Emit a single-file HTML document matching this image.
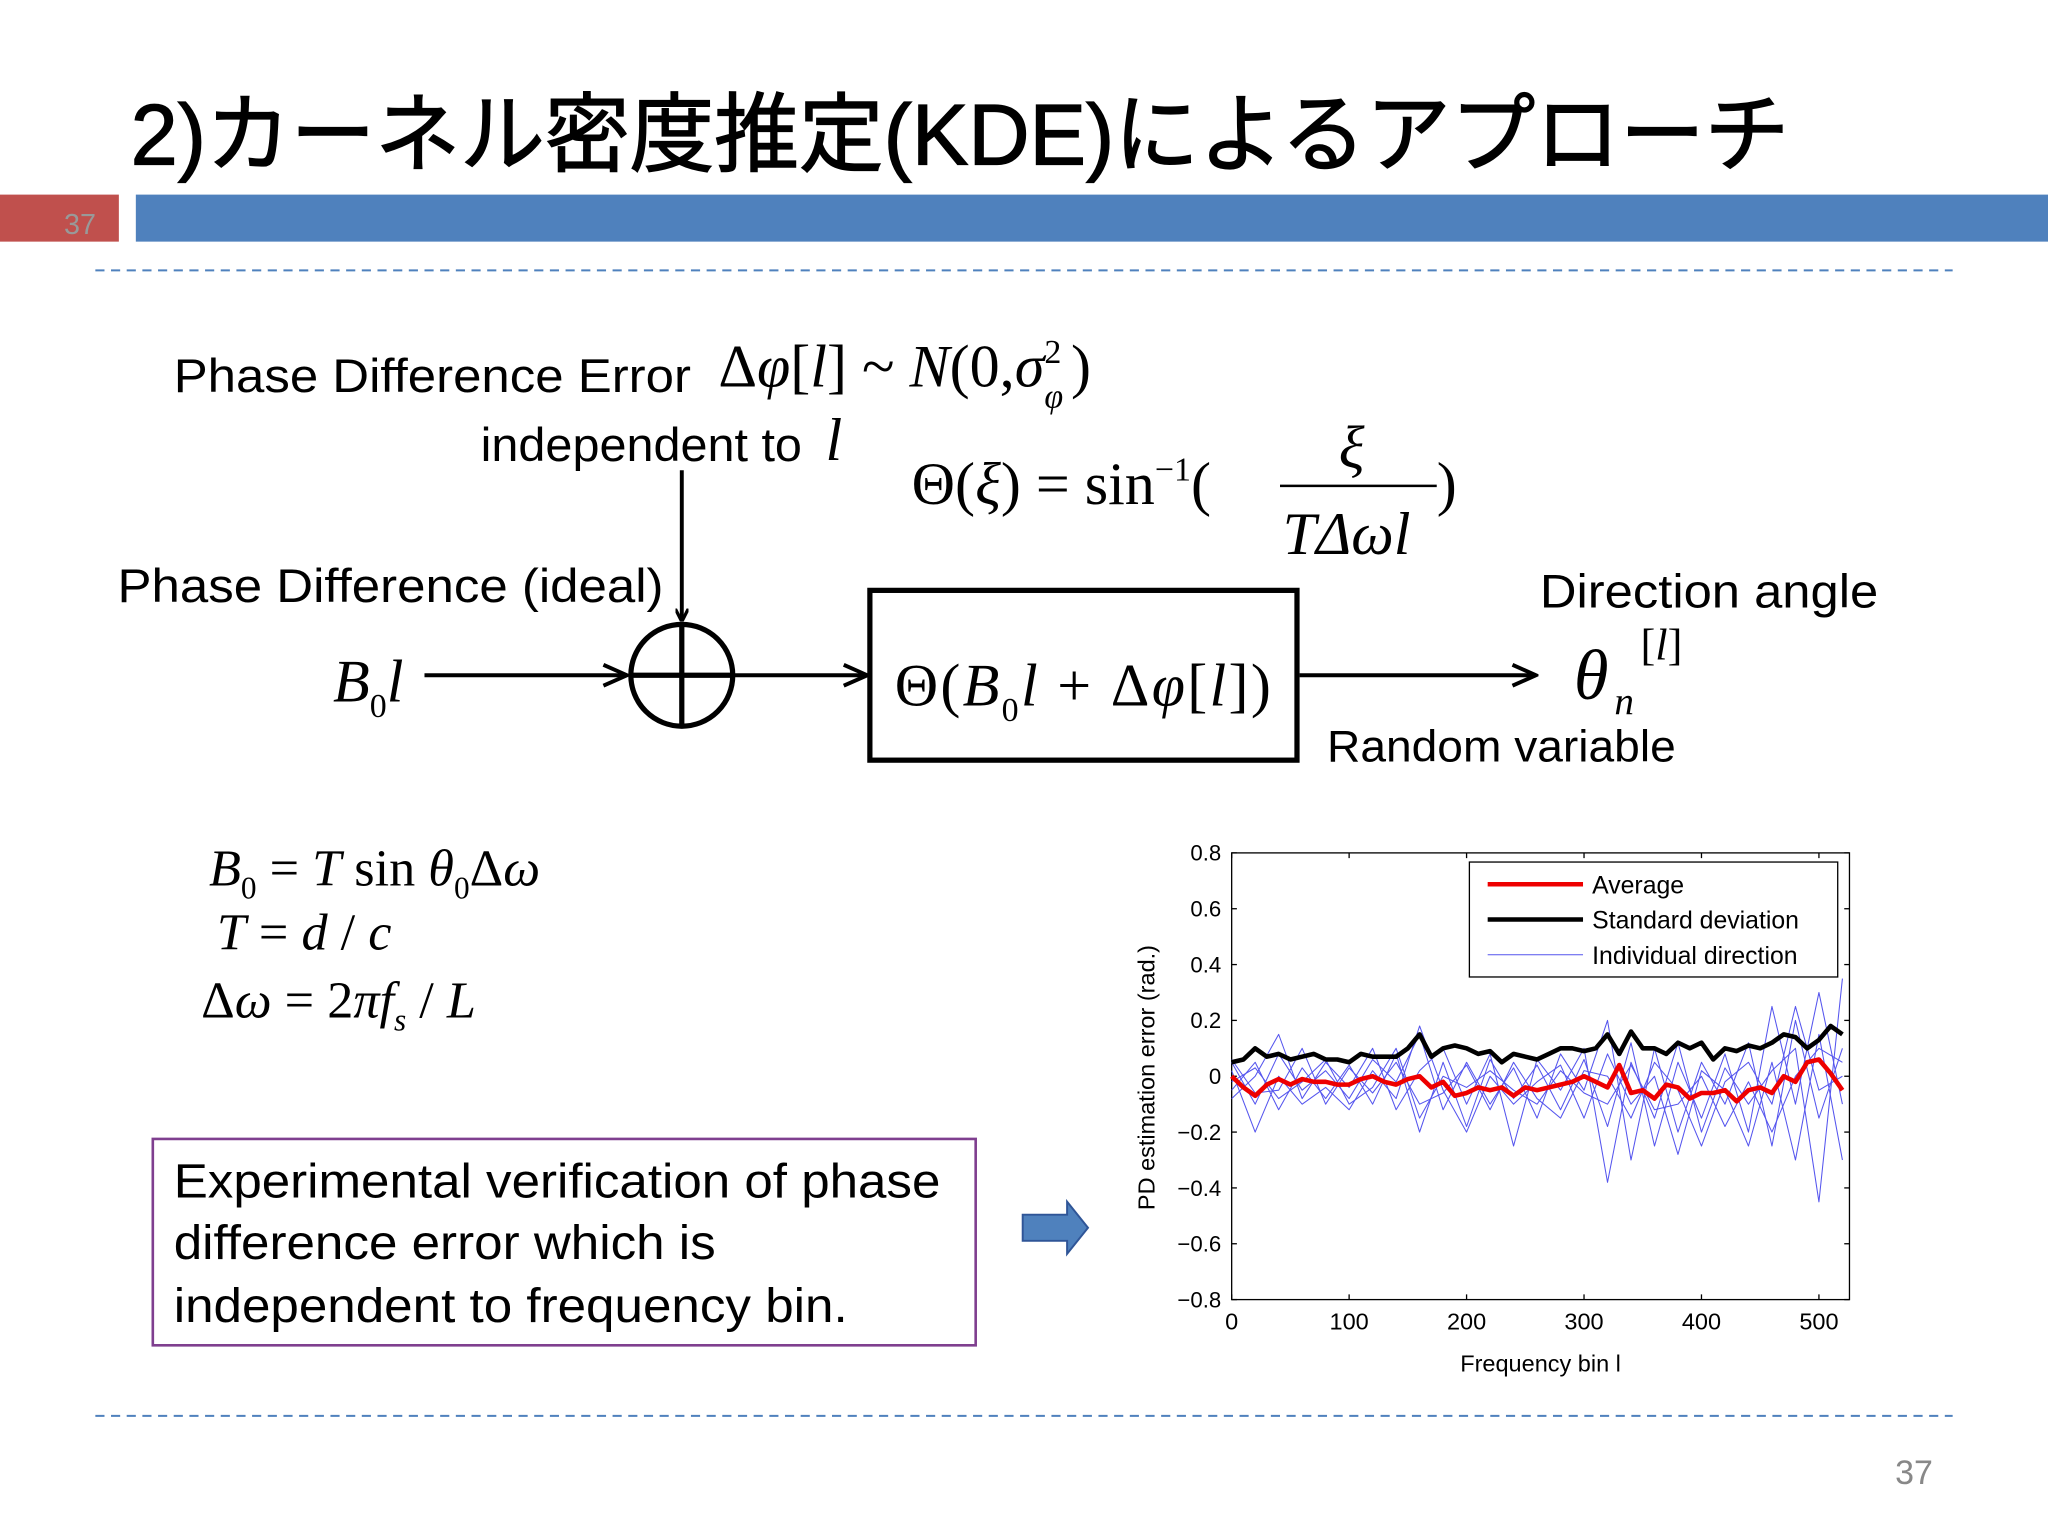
<!DOCTYPE html>
<html><head><meta charset="utf-8"><style>
html,body{margin:0;padding:0;background:#fff;width:2048px;height:1536px;overflow:hidden}
svg{display:block}
.s{font-family:"Liberation Sans","Noto Sans CJK JP",sans-serif}
.m{font-family:"Liberation Serif",serif}
</style></head><body>
<svg width="2048" height="1536" viewBox="0 0 1568 1176" xmlns="http://www.w3.org/2000/svg">
<defs><marker id="ah" markerWidth="10" markerHeight="10" refX="9" refY="5" orient="auto" markerUnits="userSpaceOnUse"><path d="M0,0 L10,5 L0,10" fill="none" stroke="#000" stroke-width="2.5"/></marker>
<marker id="ah2" markerWidth="22" markerHeight="20" refX="20" refY="10" orient="auto" markerUnits="userSpaceOnUse"><path d="M2,2 L20,10 L2,18" fill="none" stroke="#000" stroke-width="3"/></marker></defs>
<text class="s" x="100" y="126" font-size="66" textLength="1270" lengthAdjust="spacingAndGlyphs" stroke="#000" stroke-width="1">2)カーネル密度推定(KDE)によるアプローチ</text>
<rect x="0" y="149" width="91" height="36" fill="#c0504d"/>
<text class="s" x="49" y="179" font-size="22" fill="#999">37</text>
<rect x="104" y="149" width="1464" height="36" fill="#4f81bd"/>
<line x1="73" y1="207" x2="1495" y2="207" stroke="#4f81bd" stroke-width="1.5" stroke-dasharray="7,5"/>
<line x1="73" y1="1084" x2="1495" y2="1084" stroke="#4f81bd" stroke-width="1.5" stroke-dasharray="7,5"/>
<text class="s" x="1451" y="1136" font-size="26" fill="#888">37</text>

<g>
<text class="s" x="133" y="300" font-size="36" textLength="396" lengthAdjust="spacingAndGlyphs">Phase Difference Error</text>
<text class="m" x="550" y="296" font-size="46">Δ<tspan font-style="italic">φ</tspan>[<tspan font-style="italic">l</tspan>] ~ <tspan font-style="italic">N</tspan>(0,<tspan font-style="italic">σ</tspan><tspan font-size="26" dy="-18">2</tspan><tspan font-size="26" font-style="italic" dx="-13" dy="34">φ</tspan><tspan dx="6" dy="-16">)</tspan></text>
<text class="s" x="368" y="353" font-size="36" textLength="246" lengthAdjust="spacingAndGlyphs">independent to</text>
<text class="m" x="632" y="352" font-size="46" font-style="italic">l</text>
<text class="m" x="698" y="386" font-size="46">Θ(<tspan font-style="italic">ξ</tspan>) = sin<tspan font-size="26" dy="-18">−1</tspan><tspan dy="18">(</tspan></text>
<text class="m" x="1025" y="358" font-size="46" font-style="italic">ξ</text>
<line x1="980" y1="372" x2="1100" y2="372" stroke="#000" stroke-width="2"/>
<text class="m" x="982" y="424" font-size="46" font-style="italic">TΔωl</text>
<text class="m" x="1100" y="386" font-size="46">)</text>
<text class="s" x="90" y="461" font-size="36" textLength="418" lengthAdjust="spacingAndGlyphs">Phase Difference (ideal)</text>
<line x1="522" y1="360" x2="522" y2="475" stroke="#000" stroke-width="3" marker-end="url(#ah)"/>
<text class="m" x="255" y="537" font-size="46" font-style="italic">B<tspan font-size="26" font-style="normal" dy="12">0</tspan><tspan dy="-12">l</tspan></text>
<line x1="325" y1="517" x2="480" y2="517" stroke="#000" stroke-width="3" marker-end="url(#ah2)"/>
<circle cx="522" cy="517" r="39" fill="none" stroke="#000" stroke-width="4"/>
<line x1="483" y1="517" x2="561" y2="517" stroke="#000" stroke-width="4"/>
<line x1="522" y1="478" x2="522" y2="556" stroke="#000" stroke-width="4"/>
<line x1="561" y1="517" x2="664" y2="517" stroke="#000" stroke-width="3" marker-end="url(#ah2)"/>
<rect x="666" y="452" width="327" height="130" fill="none" stroke="#000" stroke-width="4"/>
<text class="m" x="685" y="540" font-size="46" textLength="288" lengthAdjust="spacing">Θ(<tspan font-style="italic">B</tspan><tspan font-size="26" dy="12">0</tspan><tspan font-style="italic" dy="-12">l</tspan> + Δ<tspan font-style="italic">φ</tspan>[<tspan font-style="italic">l</tspan>])</text>
<line x1="995" y1="517" x2="1176" y2="517" stroke="#000" stroke-width="3" marker-end="url(#ah2)"/>
<text class="s" x="1179" y="465" font-size="36" textLength="259" lengthAdjust="spacingAndGlyphs">Direction angle</text>
<text class="m" x="1205" y="535" font-size="54" font-style="italic">θ</text>
<text class="m" x="1256" y="505" font-size="34">[<tspan font-style="italic">l</tspan>]</text>
<text class="m" x="1236" y="547" font-size="30" font-style="italic">n</text>
<text class="s" x="1016" y="583" font-size="34" textLength="267" lengthAdjust="spacingAndGlyphs">Random variable</text>
</g>
<g class="m" font-size="40">
<text x="160" y="678" font-style="italic">B<tspan font-size="24" font-style="normal" dy="10">0</tspan><tspan font-style="normal" dy="-10"> = </tspan>T<tspan font-style="normal"> sin </tspan>θ<tspan font-size="24" font-style="normal" dy="10">0</tspan><tspan font-style="normal" dy="-10">Δ</tspan>ω</text>
<text x="166" y="727" font-style="italic">T<tspan font-style="normal"> = </tspan>d<tspan font-style="normal"> / </tspan>c</text>
<text x="154" y="779"><tspan>Δ</tspan><tspan font-style="italic">ω</tspan> = 2<tspan font-style="italic">πf</tspan><tspan font-size="24" font-style="italic" dy="10">s</tspan><tspan dy="-10"> / </tspan><tspan font-style="italic">L</tspan></text>
</g>
<rect x="117" y="872" width="630" height="158" fill="none" stroke="#7f3f8f" stroke-width="2"/>
<g class="s" font-size="37">
<text x="133" y="917" textLength="587" lengthAdjust="spacingAndGlyphs">Experimental verification of phase</text>
<text x="133" y="964" textLength="415" lengthAdjust="spacingAndGlyphs">difference error which is</text>
<text x="133" y="1012" textLength="516" lengthAdjust="spacingAndGlyphs">independent to frequency bin.</text>
</g>
<path d="M783,930 L817,930 L817,920 L833,940 L817,960 L817,950 L783,950 Z" fill="#4f81bd" stroke="#2f5597" stroke-width="1.5"/>

<g id="chart"></g>
</svg>
<script>
const xMean=[0,10,20,30,40,50,60,70,80,90,100,110,120,130,140,150,160,170,180,190,200,210,220,230,240,250,260,270,280,290,300,310,320,330,340,350,360,370,380,390,400,410,420,430,440,450,460,470,480,490,500,510,520];
const meanVals=[0,-0.04,-0.07,-0.03,-0.01,-0.03,-0.01,-0.02,-0.02,-0.03,-0.03,-0.01,0.0,-0.02,-0.03,-0.01,0,-0.04,-0.02,-0.07,-0.06,-0.04,-0.05,-0.04,-0.07,-0.04,-0.05,-0.04,-0.03,-0.02,0,-0.02,-0.04,0.04,-0.06,-0.05,-0.08,-0.03,-0.04,-0.08,-0.06,-0.06,-0.05,-0.09,-0.05,-0.04,-0.06,0.0,-0.02,0.05,0.06,0.01,-0.05];
const stdVals=[0.05,0.06,0.1,0.07,0.08,0.06,0.07,0.08,0.06,0.06,0.05,0.08,0.07,0.07,0.07,0.1,0.15,0.07,0.1,0.11,0.1,0.08,0.09,0.05,0.08,0.07,0.06,0.08,0.1,0.1,0.09,0.1,0.15,0.08,0.16,0.1,0.1,0.08,0.12,0.1,0.12,0.06,0.1,0.09,0.11,0.1,0.12,0.15,0.14,0.1,0.13,0.18,0.15];
const xInd=[0,20,40,60,80,100,120,140,160,180,200,220,240,260,280,300,320,340,360,380,400,420,440,460,480,500,520];
const ind1=[0.05,-0.1,0.08,-0.05,0.02,-0.08,0.06,-0.02,0.15,-0.12,0.05,-0.1,0.03,-0.15,0.08,-0.05,0.2,-0.3,0.1,-0.2,0.05,-0.1,0.12,-0.25,0.2,-0.15,0.1];
const ind2=[-0.05,0.05,-0.12,0.03,-0.08,0.04,-0.1,0.08,-0.2,0.05,-0.18,0.06,-0.08,0.04,-0.12,0.06,-0.18,0.12,-0.25,0.05,-0.15,0.08,-0.2,0.25,-0.1,0.3,-0.1];
const ind3=[0.02,-0.2,0.0,-0.1,-0.04,-0.12,0.02,-0.08,0.18,-0.05,-0.2,0.0,-0.1,-0.02,0.04,-0.15,0.08,-0.1,0.0,-0.28,0.02,-0.05,-0.25,0.05,-0.3,0.15,-0.3];
const ind4=[-0.08,0.0,0.15,-0.08,0.05,-0.04,0.1,-0.12,0.02,0.1,-0.1,0.08,-0.25,0.06,-0.05,0.1,-0.38,0.05,-0.15,0.12,-0.2,0.03,-0.1,0.02,0.1,-0.45,0.35];
const ind5=[0.06,-0.06,-0.05,0.1,-0.1,0.03,-0.06,0.05,-0.1,-0.06,0.04,-0.12,0.05,-0.08,-0.15,0.02,0.0,-0.15,0.05,-0.05,-0.25,-0.02,0.05,-0.1,0.25,-0.05,0.0];
const ind6=[-0.02,0.03,-0.08,-0.02,0.06,-0.1,-0.04,0.1,-0.15,0.0,-0.04,0.02,-0.05,-0.1,0.02,-0.06,-0.1,0.04,-0.12,-0.1,0.0,-0.18,-0.02,-0.2,0.0,0.1,0.05];
const yTicks=[0.8,0.6,0.4,0.2,0,-0.2,-0.4,-0.6,-0.8];
const yTickLabels=["0.8","0.6","0.4","0.2","0","−0.2","−0.4","−0.6","−0.8"];
const xTicks=[0,100,200,300,400,500];
const X0=943,X1=1416,XMAX=526,Y0=653,Y1=995;
const sx=v=>X0+(v/XMAX)*(X1-X0);
const sy=v=>Y0+(0.8-v)/1.6*(Y1-Y0);
const NS="http://www.w3.org/2000/svg";
const g=document.getElementById('chart');
function mk(t,a){const e=document.createElementNS(NS,t);for(const k in a)e.setAttribute(k,a[k]);g.appendChild(e);return e;}
let e=mk('rect',{x:X0,y:Y0,width:X1-X0,height:Y1-Y0,fill:'#fff',stroke:'#000','stroke-width':1});


const fnt='"Liberation Sans",sans-serif';
yTicks.forEach((v,i)=>{
 let t=mk('line',{x1:X0,y1:sy(v),x2:X0+4,y2:sy(v),stroke:'#000'});
 
 
 mk('line',{x1:X1-4,y1:sy(v),x2:X1,y2:sy(v),stroke:'#000'});
 let l=mk('text',{x:X0-8,y:sy(v)+6,'text-anchor':'end','font-size':17,'font-family':fnt});
 l.textContent=yTickLabels[i];
 
 
});
xTicks.forEach(v=>{
 let t=mk('line',{x1:sx(v),y1:Y1,x2:sx(v),y2:Y1-4,stroke:'#000'});
 
 
 mk('line',{x1:sx(v),y1:Y0,x2:sx(v),y2:Y0+4,stroke:'#000'});
 let l=mk('text',{x:sx(v),y:Y1+23,'text-anchor':'middle','font-size':18,'font-family':fnt});
 l.textContent=String(v);
 
 
});
function line(xs,ys,col,w,name){
 const p=mk('polyline',{points:xs.map((x,i)=>sx(x)+','+sy(ys[i])).join(' '),fill:'none',stroke:col,'stroke-width':w,'stroke-linejoin':'round'});
 
 
}
[ind1,ind2,ind3,ind4,ind5,ind6].forEach((s,i)=>line(xInd,s,'#5555ee',0.8,'individual-direction-line'));
line(xMean,stdVals,'#000',3.5,'std-deviation-line');
line(xMean,meanVals,'#ee0000',3.5,'average-line');
let lg=mk('rect',{x:1125,y:660,width:282,height:88,fill:'#fff',stroke:'#000','stroke-width':1});


[['Average','#ee0000',3.5],['Standard deviation','#000',3.5],['Individual direction','#5555ee',0.8]].forEach((d,i)=>{
 const y=677+i*27;
 let l=mk('line',{x1:1139,y1:y,x2:1212,y2:y,stroke:d[1],'stroke-width':d[2]});
 
 
 let t=mk('text',{x:1219,y:y+7,'font-size':19,'font-family':fnt});
 t.textContent=d[0];
 
 
});
let xt=mk('text',{x:(X0+X1)/2,y:1050,'text-anchor':'middle','font-size':18,'font-family':fnt});
xt.textContent='Frequency bin l';


let yt=mk('text',{x:0,y:0,'text-anchor':'middle','font-size':18,'font-family':fnt,transform:'translate(884,825) rotate(-90)'});
yt.textContent='PD estimation error (rad.)';


</script>
</body></html>
